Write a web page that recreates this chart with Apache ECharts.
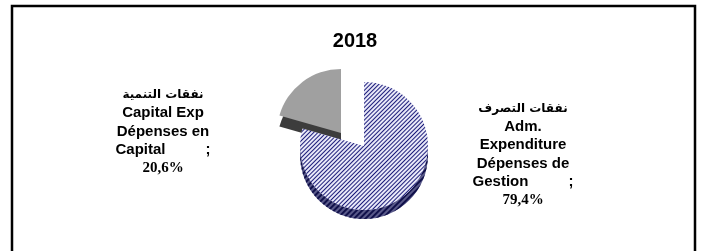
<!DOCTYPE html>
<html><head><meta charset="utf-8">
<script src="https://cdn.jsdelivr.net/npm/echarts@6/dist/echarts.min.js"></script>
<style>html,body{margin:0;padding:0;background:#fff}#c{width:704px;height:251px}</style>
</head><body><div id="c"></div>
<script>
const title = '2018';
const namesAr = ['نفقات التصرف', 'نفقات التنمية'];
const namesEn = [['Adm.', 'Expenditure', 'Dépenses de', 'Gestion'], ['Capital Exp', 'Dépenses en', 'Capital']];
const values = [79.4, 20.6];

const chart = echarts.init(document.getElementById('c'), null, {renderer: 'canvas'});
const blueDecal = {symbol: 'rect', dashArrayX: [1, 0], dashArrayY: [1, 1.8], rotation: -Math.PI / 4, color: '#1c1c7a'};
const blueDecalDark = {symbol: 'rect', dashArrayX: [1, 0], dashArrayY: [1.2, 1.2], rotation: -Math.PI / 4, color: '#10104a'};

function fmtPct(v) { return String(v.toFixed(1)).replace('.', ',') + '%'; }
function labelText(i) {
  const lines = ['{ar|' + namesAr[i] + '}'];
  const en = namesEn[i];
  en.forEach((t, k) => {
    if (k === en.length - 1) lines.push('{en|' + t + '}{sp|}{en|;}');
    else lines.push('{en|' + t + '}');
  });
  lines.push('{pct|' + fmtPct(values[i]) + '}');
  return lines.join('\n');
}
const rich = {
  ar: {fontFamily: 'DejaVu Sans', fontWeight: 'bold', fontSize: 12, lineHeight: 18, color: '#000'},
  en: {fontFamily: 'Liberation Sans', fontWeight: 'bold', fontSize: 15, lineHeight: 18.5, color: '#000'},
  sp: {width: 40},
  pct: {fontFamily: 'Liberation Serif', fontWeight: 'bold', fontSize: 15, lineHeight: 17, color: '#000'}
};

const R = 64;
function mk(center, topColors, visible, depth, withLabel) {
  return {
    type: 'pie', center: center, radius: [0, R], startAngle: 90, clockwise: true,
    silent: true, animation: false, z: depth ? 1 : 2,
    label: withLabel ? {
      show: true, position: 'outside', formatter: p => labelText(p.dataIndex), rich: rich, align: 'center'
    } : {show: false},
    labelLine: {show: false},
    labelLayout: withLabel ? (p => (p.dataIndex === 0 ? {x: 523, y: 154, align: 'center', verticalAlign: 'middle'} : {x: 163, y: 131, align: 'center', verticalAlign: 'middle'})) : undefined,
    data: values.map((v, i) => ({
      value: v, name: namesAr[i],
      label: {show: withLabel && visible[i]},
      itemStyle: visible[i] ? Object.assign({color: topColors[i], borderWidth: 0},
        i === 0 ? {decal: depth ? blueDecalDark : blueDecal} : {}) : {color: 'rgba(0,0,0,0)', borderWidth: 0}
    }))
  };
}

chart.setOption({
  backgroundColor: '#fff',
  title: {text: title, left: 350, top: 26, textAlign: 'center',
    textStyle: {fontFamily: 'Liberation Sans', fontWeight: 'bold', fontSize: 20, color: '#000'}},
  graphic: [{type: 'rect', shape: {x: 12, y: 6, width: 683, height: 260}, style: {fill: 'none', stroke: '#000', lineWidth: 2.5}, z: 10}],
  series: [
    mk([364, 155], ['#5a5a8a', '#3c3c3c'], [true, false], true, false),
    mk([341, 144], ['#5a5a8a', '#3c3c3c'], [false, true], true, false),
    mk([364, 146], ['#e8e8f8', '#a0a0a0'], [true, false], false, true),
    mk([341, 133], ['#e8e8f8', '#a0a0a0'], [false, true], false, true)
  ]
});
</script></body></html>
